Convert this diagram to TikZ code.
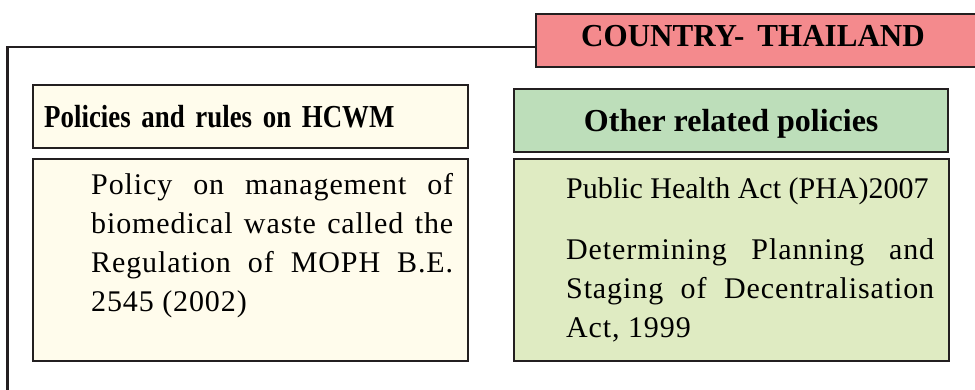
\documentclass[tikz,border=0pt]{standalone}
\usepackage{fontspec}
\setmainfont{Liberation Serif}
\newfontfamily\bodyfont[LetterSpace=3]{Liberation Serif}
\newfontfamily\hcwmfont[FakeStretch=0.84]{Liberation Serif}
\newfontfamily\titlefont[FakeStretch=0.97]{Liberation Serif}
\usetikzlibrary{positioning}

\definecolor{edgecol}{RGB}{35,31,32}
\definecolor{pinkhead}{RGB}{244,138,141}
\definecolor{creambox}{RGB}{255,252,236}
\definecolor{greenhead}{RGB}{189,222,186}
\definecolor{greenbody}{RGB}{223,235,194}

% text block of a body box: left gap, width, top gap, text
\newcommand{\bodyblock}[4]{\hspace*{#1}\parbox[t][202pt][t]{#2}{\vspace*{#3}\fontsize{30}{39}\selectfont\tolerance=10000\hyphenpenalty=10000 #4}\hspace*{15pt}}

\begin{document}
\begin{tikzpicture}
  [x=1pt,y=-1pt,
   every node/.style={draw=edgecol,line width=2.4pt,rectangle,anchor=north west},
   headbox/.style={font=\fontsize{32}{36}\selectfont\bfseries,text height=21pt,text depth=0pt},
   bodybox/.style={inner sep=0pt}]
  \useasboundingbox (0,0) rectangle (975,390);

  \node[headbox,fill=pinkhead,minimum height=53pt,text width=400pt,align=left,
        inner xsep=45pt,text depth=10pt,font=\titlefont\fontsize{32}{36}\selectfont\bfseries] (country) at (535,13)
        {COUNTRY-\hspace{13pt}THAILAND};

  \node[headbox,fill=creambox,minimum height=63pt,text width=413pt,align=left,
        inner xsep=11pt,font=\hcwmfont\fontsize{32}{36}\selectfont\bfseries] (hcwmhead) at (32,84)
        {Policies and rules on HCWM};
  \node[bodybox,fill=creambox] (hcwmbody) at (32,158)
        {\bodyblock{58pt}{362pt}{14.5pt}{\bodyfont Policy on management of\linebreak
         biomedical waste called the\linebreak Regulation of MOPH B.E.\linebreak 2545 (2002)}};

  \node[headbox,fill=greenhead,minimum height=63pt,minimum width=434pt,align=center] (otherhead) at (513,88)
        {Other related policies};
  \node[bodybox,fill=greenbody] (otherbody) at (513,158)
        {\bodyblock{52pt}{368pt}{18.5pt}{Public Health Act (PHA)2007\par\vspace{22pt}
         \bodyfont Determining Planning and\linebreak Staging of Decentralisation\linebreak Act, 1999}};

  \coordinate (corner) at (7.5,47);
  \coordinate (floor) at (7.5,395);
  \draw[edgecol,line width=2.4pt] (country.west |- corner) -- (corner) -- (floor);
\end{tikzpicture}
\end{document}
